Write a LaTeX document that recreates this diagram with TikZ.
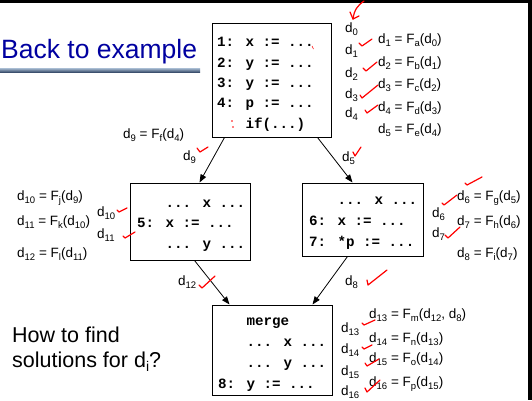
\documentclass[tikz,border=0pt]{standalone}
\usepackage{fontspec}
\setmainfont{Liberation Sans}
\setsansfont{Liberation Sans}
\newfontfamily\codefont{Liberation Mono}
\usetikzlibrary{arrows.meta}
\definecolor{titleblue}{RGB}{0,0,160}
\definecolor{barlight}{RGB}{170,190,212}
\definecolor{bardark}{RGB}{60,80,110}
\newcommand\dsb[1]{\raisebox{-3pt}{\fontsize{9.5}{10}\selectfont #1}}
\begin{document}
\begin{tikzpicture}[x=1pt,y=-1pt,
  box/.style={draw, line width=1pt, inner sep=0pt},
  code/.style={anchor=base west, inner sep=0pt, font=\codefont\bfseries\fontsize{14.2}{17}\selectfont},
  lbl/.style={anchor=base west, inner sep=0pt, font=\fontsize{13.5}{16}\selectfont},
  big/.style={anchor=base west, inner sep=0pt, font=\fontsize{21.5}{26}\selectfont},
  arr/.style={line width=0.8pt, -{Triangle[length=8pt,width=6pt]}},
  chk/.style={red, line width=1.2pt, line cap=round, line join=round}]
\useasboundingbox (0,0) rectangle (532,400);
\fill[white] (0,0) rectangle (532,400);
\fill[black] (0,0) rectangle (532,3);
\fill[black] (528,0) rectangle (532,400);

% title
\node[anchor=base west, inner sep=0pt, font=\fontsize{26.5}{32}\selectfont, text=titleblue] (title) at (1,58) {Back to example};
\shade[top color=barlight, bottom color=bardark] (0,68) rectangle (200,72);

% boxes
\node[box, minimum width=119pt, minimum height=114pt] (b1) at (271.5,80) {};
\node[box, minimum width=120pt, minimum height=77pt] (b2) at (190,221.5) {};
\node[box, minimum width=121pt, minimum height=73pt] (b3) at (362.5,219.5) {};
\node[box, minimum width=120pt, minimum height=90pt] (b4) at (272,350) {};

% code box 1
\node[code] (c11) at (217,46) {1: x := ...};
\node[code] (c12) at (217,67) {2: y := ...};
\node[code] (c13) at (217,87) {3: y := ...};
\node[code] (c14) at (217,107) {4: p := ...};
\node[code] (c15) at (217,128) {\phantom{4: }if(...)};
% code box 2
\node[code] (c21) at (137,207) {\phantom{5: }... x ...};
\node[code] (c22) at (137,227) {5: x := ...};
\node[code] (c23) at (137,248) {\phantom{5: }... y ...};
% code box 3
\node[code] (c31) at (309,204) {\phantom{6: }... x ...};
\node[code] (c32) at (309,225) {6: x := ...};
\node[code] (c33) at (309,246) {7: *p := ...};
% code box 4
\node[code] (c41) at (218,325) {\phantom{8: }merge};
\node[code] (c42) at (218,346) {\phantom{8: }... x ...};
\node[code] (c43) at (218,367) {\phantom{8: }... y ...};
\node[code] (c44) at (218,388) {8: y := ...};

% arrows
\draw[arr] ([xshift=13pt]b1.south west) -- ([xshift=70pt]b2.north west);
\draw[arr] ([xshift=-14pt]b1.south east) -- ([xshift=51pt]b3.north west);
\draw[arr] ([xshift=65pt]b2.south west) -- ([xshift=18pt]b4.north west);
\draw[arr] ([xshift=46pt]b3.south west) -- ([xshift=101pt]b4.north west);

% right of box 1
\node[lbl] (l0) at (345,32) {d\dsb{0}};
\node[lbl] (l1) at (345,54) {d\dsb{1}};
\node[lbl] (l2) at (345,77) {d\dsb{2}};
\node[lbl] (l3) at (345,98) {d\dsb{3}};
\node[lbl] (l4) at (345,117) {d\dsb{4}};
\node[lbl] (e1) at (378,43) {d\dsb{1} = F\dsb{a}(d\dsb{0})};
\node[lbl] (e2) at (378,66) {d\dsb{2} = F\dsb{b}(d\dsb{1})};
\node[lbl] (e3) at (378,88) {d\dsb{3} = F\dsb{c}(d\dsb{2})};
\node[lbl] (e4) at (378,111) {d\dsb{4} = F\dsb{d}(d\dsb{3})};
\node[lbl] (e5) at (378,133) {d\dsb{5} = F\dsb{e}(d\dsb{4})};

% left of box 1
\node[lbl] (e9) at (123,138) {d\dsb{9} = F\dsb{f}(d\dsb{4})};
\node[lbl] (l9) at (183,160) {d\dsb{9}};
\node[lbl] (l5) at (342,161) {d\dsb{5}};

% box 2 side
\node[lbl] (e10) at (17,200) {d\dsb{10} = F\dsb{j}(d\dsb{9})};
\node[lbl] (e11) at (17,225) {d\dsb{11} = F\dsb{k}(d\dsb{10})};
\node[lbl] (e12) at (17,257) {d\dsb{12} = F\dsb{l}(d\dsb{11})};
\node[lbl] (l10) at (97,216) {d\dsb{10}};
\node[lbl] (l11) at (97,238) {d\dsb{11}};

% box 3 side
\node[lbl] (e6) at (457,200) {d\dsb{6} = F\dsb{g}(d\dsb{5})};
\node[lbl] (e7) at (457,225) {d\dsb{7} = F\dsb{h}(d\dsb{6})};
\node[lbl] (e8) at (457,257) {d\dsb{8} = F\dsb{i}(d\dsb{7})};
\node[lbl] (l6) at (432,217) {d\dsb{6}};
\node[lbl] (l7) at (432,237) {d\dsb{7}};

% lower arrows labels
\node[lbl] (l12) at (178,285) {d\dsb{12}};
\node[lbl] (l8) at (345,285) {d\dsb{8}};

% box 4 side
\node[lbl] (e13) at (369,318) {d\dsb{13} = F\dsb{m}(d\dsb{12}, d\dsb{8})};
\node[lbl] (e14) at (369,342) {d\dsb{14} = F\dsb{n}(d\dsb{13})};
\node[lbl] (e15) at (369,362) {d\dsb{15} = F\dsb{o}(d\dsb{14})};
\node[lbl] (e16) at (369,386) {d\dsb{16} = F\dsb{p}(d\dsb{15})};
\node[lbl] (l13) at (341,332) {d\dsb{13}};
\node[lbl] (l14) at (341,353) {d\dsb{14}};
\node[lbl] (l15) at (341,375) {d\dsb{15}};
\node[lbl] (l16) at (341,395) {d\dsb{16}};

% question
\node[big] (q1) at (12,342) {How to find};
\node[big] (q2) at (12,367) {solutions for d\raisebox{-4pt}{\fontsize{14}{14}\selectfont i}?};

% red marks
\draw[chk] (364,1) .. controls (358,5) and (354,10) .. (353,19);
\draw[chk] (350,12) -- (353,19) -- (359,16);
\draw[chk] (359,43) -- (362,46) -- (372,39);
\draw[chk] (363,68) -- (366,71) -- (377,62);
\draw[chk] (360,95) -- (362,98) -- (378,85);
\draw[chk] (365,110) -- (367,113) -- (378,105);
\fill[red] (232,121) circle (0.8);
\fill[red] (233,127) circle (0.8);
\draw[red, line width=0.5pt] (312,46) -- (313.5,49);
\draw[chk] (197,148) -- (200,152) -- (208,147);
\draw[chk] (353,152) -- (355,156) -- (361,147);
\draw[chk] (117,210) -- (119,212) -- (127,208);
\draw[chk] (123,236) -- (125,238) -- (135,232);
\draw[chk] (465,183) -- (467,185) -- (482,177);
\draw[chk] (442,203) -- (444,205) -- (457,195);
\draw[chk] (445,235) -- (448,238) -- (460,227);
\draw[chk] (199,285) -- (202,288) -- (215,276);
\draw[chk] (367,280) -- (368,285) -- (387,270);
\draw[chk] (362,323) -- (364,325) -- (375,320);
\draw[chk] (362,347) -- (364,349) -- (372,345);
\draw[chk] (365,363) -- (367,366) -- (379,359);
\draw[chk] (365,388) -- (367,392) -- (380,380);
\end{tikzpicture}
\end{document}
